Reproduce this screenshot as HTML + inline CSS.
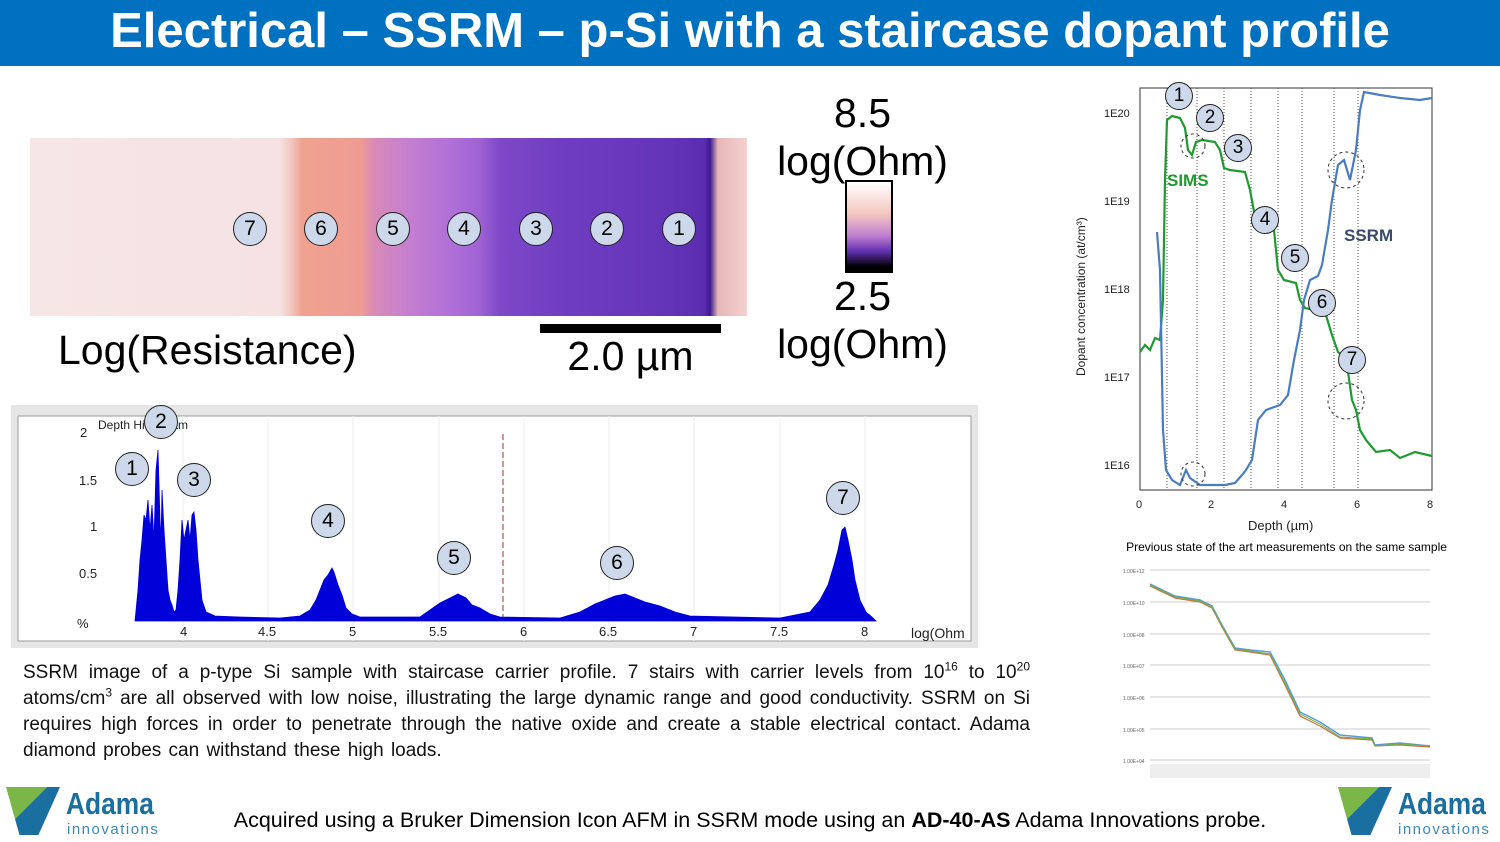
<!DOCTYPE html>
<html><head><meta charset="utf-8"><style>
body{margin:0;width:1500px;height:842px;background:#fff;position:relative;overflow:hidden;font-family:"Liberation Sans",sans-serif}
.a{position:absolute}
.hdr{left:0;top:0;width:1500px;height:66px;background:#0070c0;color:#fff;font-weight:bold;font-size:49px;text-align:center;line-height:62px}
.c{position:absolute;width:34px;height:34px;border-radius:50%;background:#cdd8ea;border:1.5px solid #222;box-sizing:border-box;text-align:center;line-height:32px;font-size:21px;color:#000}
.big{font-size:41px;color:#000;line-height:1}
</style></head><body>
<div class="a hdr">Electrical – SSRM – p-Si with a staircase dopant profile</div>

<div class="a" style="left:30px;top:138px;width:717px;height:178px;background:linear-gradient(90deg,#f7e6e6 0px,#f6e2e2 250px,#f2c4bc 262px,#f0a290 272px,#ee9c92 330px,#d88ab8 345px,#c47ed0 380px,#b070d8 420px,#9f62d4 450px,#7e48c8 470px,#6e3cc0 540px,#6434b8 640px,#5a2cb0 675px,#3c1890 680px,#e8b8b8 688px,#f4d0d0 717px)"></div>
<div class="c" style="left:233px;top:212px">7</div>
<div class="c" style="left:304px;top:212px">6</div>
<div class="c" style="left:376px;top:212px">5</div>
<div class="c" style="left:447px;top:212px">4</div>
<div class="c" style="left:519px;top:212px">3</div>
<div class="c" style="left:590px;top:212px">2</div>
<div class="c" style="left:662px;top:212px">1</div>
<div class="a" style="left:845px;top:180px;width:48px;height:93px;border:2px solid #000;box-sizing:border-box;background:linear-gradient(180deg,#fff,#f4c8c0 35%,#c080d0 60%,#6030b0 78%,#000 95%)"></div>
<div class="a big" style="left:770px;top:93px;width:185px;text-align:center">8.5</div>
<div class="a big" style="left:770px;top:141px;width:185px;text-align:center">log(Ohm)</div>
<div class="a big" style="left:770px;top:276px;width:185px;text-align:center">2.5</div>
<div class="a big" style="left:770px;top:324px;width:185px;text-align:center">log(Ohm)</div>
<div class="a big" style="left:58px;top:330px">Log(Resistance)</div>
<div class="a" style="left:540px;top:324px;width:181px;height:9px;background:#000"></div>
<div class="a big" style="left:540px;top:336px;width:181px;text-align:center">2.0 µm</div>

<div class="a" style="left:11px;top:405px;width:967px;height:243px;background:#e6e6e6"></div>
<svg class="a" style="left:0;top:0" width="1500" height="842">
<rect x="18" y="416" width="953" height="225" fill="#fff" stroke="#999"/>
<g stroke="#eee">
<line x1="183" y1="416" x2="183" y2="641"/><line x1="268" y1="416" x2="268" y2="641"/><line x1="353" y1="416" x2="353" y2="641"/><line x1="439" y1="416" x2="439" y2="641"/><line x1="524" y1="416" x2="524" y2="641"/><line x1="609" y1="416" x2="609" y2="641"/><line x1="694" y1="416" x2="694" y2="641"/><line x1="780" y1="416" x2="780" y2="641"/><line x1="865" y1="416" x2="865" y2="641"/>
</g>
<line x1="503" y1="434" x2="503" y2="621" stroke="#a03030" stroke-dasharray="6,3"/>
<path fill="#0000d8" stroke="#0000d8" stroke-width="0.8" d="M135,621 L138,590 140,560 142,540 144,515 146,520 148,500 150,530 152,505 154,540 156,470 158,450 160,520 161,540 162,490 164,530 166,560 168,590 170,600 172,605 174,612 176,610 178,590 180,560 182,520 184,540 186,530 188,520 190,540 192,515 194,512 196,530 198,560 200,580 202,600 206,612 215,616 240,617 280,618 300,616 310,610 316,600 320,590 324,580 328,575 332,568 334,572 338,585 342,595 346,608 352,614 360,617 420,617 430,610 440,603 450,598 458,594 466,598 472,605 480,608 490,614 500,617 560,618 580,612 595,604 605,600 615,596 625,594 635,598 645,602 660,606 675,612 690,616 780,618 810,612 820,600 828,585 834,565 838,550 842,530 845,527 848,540 850,550 852,560 855,580 860,600 866,612 872,617 876,621 Z"/>
<g font-size="13" fill="#222"><text x="80" y="437">2</text><text x="79" y="485">1.5</text><text x="90" y="531">1</text><text x="79" y="578">0.5</text><text x="77" y="628">%</text>
<text x="180" y="636">4</text><text x="258" y="636">4.5</text><text x="349" y="636">5</text><text x="429" y="636">5.5</text><text x="520" y="636">6</text><text x="599" y="636">6.5</text><text x="690" y="636">7</text><text x="770" y="636">7.5</text><text x="861" y="636">8</text><text x="911" y="638" font-size="14">log(Ohm</text>
<text x="98" y="429" font-size="12">Depth Histogram</text></g>

<rect x="1140" y="88" width="292" height="402" fill="none" stroke="#333"/>
<g stroke="#555" stroke-dasharray="1,2"><line x1="1167" y1="88" x2="1167" y2="490"/><line x1="1197" y1="88" x2="1197" y2="490"/><line x1="1224" y1="88" x2="1224" y2="490"/><line x1="1251" y1="88" x2="1251" y2="490"/><line x1="1278" y1="88" x2="1278" y2="490"/><line x1="1302" y1="88" x2="1302" y2="490"/><line x1="1334" y1="88" x2="1334" y2="490"/><line x1="1358" y1="88" x2="1358" y2="490"/></g>
<polyline fill="none" stroke="#1f9a30" stroke-width="2.2" points="1140,352 1145,345 1150,350 1155,338 1160,340 1163,300 1165,180 1167,120 1172,116 1180,118 1185,128 1188,150 1192,155 1196,142 1202,140 1215,142 1220,150 1224,168 1230,170 1245,172 1250,190 1256,222 1265,225 1274,230 1278,270 1284,280 1296,283 1300,300 1305,308 1325,312 1332,335 1338,352 1346,358 1352,400 1356,410 1360,430 1366,440 1376,452 1390,450 1400,458 1415,452 1432,456"/>
<polyline fill="none" stroke="#4a7cc0" stroke-width="2.2" points="1157,232 1160,270 1163,430 1166,470 1172,480 1180,485 1186,470 1190,478 1200,485 1225,485 1235,483 1242,475 1246,470 1252,460 1258,420 1266,410 1280,405 1288,395 1294,360 1300,330 1304,300 1310,280 1318,276 1322,265 1328,230 1332,200 1338,165 1344,160 1350,180 1356,150 1360,110 1364,92 1380,95 1400,98 1420,100 1432,98"/>
<g fill="none" stroke="#333" stroke-dasharray="3,3"><circle cx="1193" cy="146" r="12"/><circle cx="1193" cy="474" r="12"/><circle cx="1346" cy="170" r="18"/><circle cx="1346" cy="401" r="18"/></g>
<g font-size="11" fill="#222"><text x="1104" y="117">1E20</text><text x="1104" y="205">1E19</text><text x="1104" y="293">1E18</text><text x="1104" y="381">1E17</text><text x="1104" y="469">1E16</text>
<text x="1136" y="508">0</text><text x="1208" y="508">2</text><text x="1281" y="508">4</text><text x="1354" y="508">6</text><text x="1427" y="508">8</text>
<text x="1248" y="530" font-size="13">Depth (µm)</text>
<text transform="translate(1085,376) rotate(-90)" font-size="12">Dopant concentration (at/cm³)</text></g>
<text x="1167" y="186" font-size="17" font-weight="bold" fill="#1f9a30">SIMS</text>
<text x="1344" y="241" font-size="17" font-weight="bold" fill="#3a4a6a">SSRM</text>

<g stroke="#ccc"><line x1="1150" y1="570" x2="1430" y2="570"/><line x1="1150" y1="602" x2="1430" y2="602"/><line x1="1150" y1="634" x2="1430" y2="634"/><line x1="1150" y1="665" x2="1430" y2="665"/><line x1="1150" y1="697" x2="1430" y2="697"/><line x1="1150" y1="729" x2="1430" y2="729"/><line x1="1150" y1="760" x2="1430" y2="760"/></g>
<polyline fill="none" stroke="#5b9bd5" stroke-width="1.5" points="1150,584 1175,596 1200,600 1212,606 1222,625 1235,648 1250,650 1270,652 1285,680 1300,712 1320,722 1340,735 1372,738 1375,745 1400,743 1430,746"/>
<polyline fill="none" stroke="#d07040" stroke-width="1.2" points="1150,586 1175,598 1200,602 1212,608 1222,627 1235,650 1250,652 1270,655 1285,685 1300,716 1320,726 1340,738 1372,740 1375,746 1400,745 1430,747"/>
<polyline fill="none" stroke="#70b040" stroke-width="1" points="1150,585 1175,597 1200,601 1212,607 1222,626 1235,649 1250,651 1270,654 1285,683 1300,714 1320,724 1340,737 1372,739 1375,746 1400,744 1430,746"/>
<g font-size="5" fill="#666"><text x="1123" y="573">1.00E+12</text><text x="1123" y="605">1.00E+10</text><text x="1123" y="637">1.00E+08</text><text x="1123" y="668">1.00E+07</text><text x="1123" y="700">1.00E+06</text><text x="1123" y="732">1.00E+05</text><text x="1123" y="763">1.00E+04</text></g>
<rect x="1150" y="764" width="280" height="14" fill="#eee"/>
</svg>
<div class="c" style="left:115px;top:452px">1</div>
<div class="c" style="left:144px;top:405px">2</div>
<div class="c" style="left:177px;top:463px">3</div>
<div class="c" style="left:311px;top:504px">4</div>
<div class="c" style="left:437px;top:541px">5</div>
<div class="c" style="left:600px;top:546px">6</div>
<div class="c" style="left:826px;top:481px">7</div>
<div class="c" style="left:1165px;top:82px;width:28px;height:28px;line-height:26px;font-size:19px">1</div>
<div class="c" style="left:1196px;top:104px;width:28px;height:28px;line-height:26px;font-size:19px">2</div>
<div class="c" style="left:1224px;top:134px;width:28px;height:28px;line-height:26px;font-size:19px">3</div>
<div class="c" style="left:1251px;top:206px;width:28px;height:28px;line-height:26px;font-size:19px">4</div>
<div class="c" style="left:1281px;top:244px;width:28px;height:28px;line-height:26px;font-size:19px">5</div>
<div class="c" style="left:1308px;top:289px;width:28px;height:28px;line-height:26px;font-size:19px">6</div>
<div class="c" style="left:1338px;top:346px;width:28px;height:28px;line-height:26px;font-size:19px">7</div>
<div class="a" style="left:1100px;top:540px;width:373px;text-align:center;font-size:12px">Previous state of the art measurements on the same sample</div>

<div class="a" style="left:23px;top:660px;width:1007px;font-size:19px;line-height:26px;text-align:justify;color:#111;word-spacing:2px">SSRM image of a p-type Si sample with staircase carrier profile. 7 stairs with carrier levels from 10<sup style="font-size:12px;line-height:0">16</sup> to 10<sup style="font-size:12px;line-height:0">20</sup> atoms/cm<sup style="font-size:12px;line-height:0">3</sup> are all observed with low noise, illustrating the large dynamic range and good conductivity. SSRM on Si requires high forces in order to penetrate through the native oxide and create a stable electrical contact. Adama diamond probes can withstand these high loads.</div>
<div class="a" style="left:0;top:808px;width:1500px;text-align:center;font-size:21.5px">Acquired using a Bruker Dimension Icon AFM in SSRM mode using an <b>AD-40-AS</b> Adama Innovations probe.</div>

<div class="a" style="left:6px;top:787px;width:54px;height:48px;background:linear-gradient(135deg,#7ab648 40%,#1a6fa0 41%);clip-path:polygon(0 0,100% 0,60% 100%,25% 100%)"></div>
<div class="a" style="left:66px;top:788px;font-size:31px;font-weight:bold;color:#1a6fa0;line-height:1;transform:scaleX(0.85);transform-origin:left">Adama</div>
<div class="a" style="left:67px;top:821px;font-size:15px;letter-spacing:1.5px;color:#3a8ab8">innovations</div>
<div class="a" style="left:1338px;top:787px;width:54px;height:48px;background:linear-gradient(135deg,#7ab648 40%,#1a6fa0 41%);clip-path:polygon(0 0,100% 0,60% 100%,25% 100%)"></div>
<div class="a" style="left:1398px;top:788px;font-size:31px;font-weight:bold;color:#1a6fa0;line-height:1;transform:scaleX(0.85);transform-origin:left">Adama</div>
<div class="a" style="left:1398px;top:821px;font-size:15px;letter-spacing:1.5px;color:#3a8ab8">innovations</div>
</body></html>
